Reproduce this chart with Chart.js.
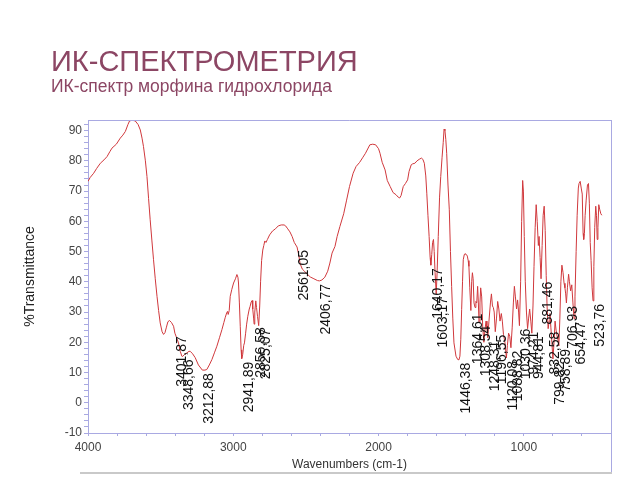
<!DOCTYPE html>
<html>
<head>
<meta charset="utf-8">
<script src="https://cdn.jsdelivr.net/npm/chart.js@4/dist/chart.umd.min.js"></script>
<style>
  html, body { margin: 0; padding: 0; background: #ffffff; }
  #wrap { position: relative; width: 640px; height: 480px; overflow: hidden; }
  #c { position: absolute; left: 0; top: 0; }
  .t1 { position: absolute; left: 51px; top: 47px; font-family: "Liberation Sans", Arial, sans-serif; font-size: 29px; line-height: 29px; color: #8c4664; white-space: nowrap; }
  .t2 { position: absolute; left: 51px; top: 78px; font-family: "Liberation Sans", Arial, sans-serif; font-size: 17.5px; line-height: 17.5px; color: #8c4664; white-space: nowrap; }
</style>
</head>
<body>
<div id="wrap">
  <canvas id="c" width="640" height="480"></canvas>
  <div class="t1">ИК-СПЕКТРОМЕТРИЯ</div>
  <div class="t2">ИК-спектр морфина гидрохлорида</div>
</div>
<script>
// ---- data (wavenumber, cm-1) ----
const wavenumbers = [
  4000,3985,3961,3940,3915,3890,3869,3850,3835,3805,3778,3760,3743,3725,3714,3695,3675,3655,3640,3628,
  3618,3605,3594,3583,3572,3560,3549,3537,3525,3514,3503,3490,3480,3470,3460,3450,3439,3425,3411,3401.87,
  3390,3377,3365,3354,3348.66,3335,3319,3305,3296,3280,3262,3240,3212.88,3195,3182,3165,3147,3130,3113,3095,
  3078,3065,3056,3045,3040,3035,3028,3021,3010,2998,2985,2975,2968,2964,2958,2952,2946,2941.89,2935,2928,
  2923,2915,2908,2900,2890,2884,2877,2870,2866,2860,2856.58,2852,2845,2840,2833,2825.07,2818,2812,2805,2797,
  2790,2783,2775,2765,2750,2730,2710,2690,2670,2650,2640,2625,2610,2595,2580,2561.05,2550,2540,2525,2510,
  2490,2470,2445,2420,2406.77,2390,2370,2350,2335,2320,2300,2285,2266,2240,2220,2200,2175,2155,2130,2110,
  2090,2060,2040,2020,2000,1990,1975,1955,1940,1920,1900,1880,1865,1855,1845,1830,1815,1800,1790,1775,
  1765,1750,1735,1720,1705,1695,1685,1675,1668,1660,1652,1645,1640.17,1634,1628,1622,1617,1611,1603.17,1597,
  1589,1580,1572,1563,1555,1549,1543,1537,1531,1522,1513,1505,1497,1489,1481,1467,1455,1446.38,1440,1434,
  1428,1422,1417,1410,1405,1395,1389,1383,1378,1372,1364.61,1359,1354,1349,1343,1336,1330,1324,1318,1313,
  1308.54,1302,1297,1290,1283,1275,1268,1260,1254,1248.31,1240,1230,1223,1216,1210,1204,1196.55,1188,1180,1172,
  1164,1155,1148,1140,1130,1120.08,1113,1105,1097,1088.82,1080,1072,1065,1058,1050,1043,1036,1030.36,1022,1015,
  1008,1003,997,990,982,974.21,967,960,952,944.81,937,930,922,915,908,900,895,888,881.46,874,
  867,860,853,846,840,832.58,826,820,814,807,799.82,792,785,778,771,765,758.89,752,745,738,
  730,723,717,712,706.93,700,692,686,678,670,662,654.47,648,640,633,625,620,612,605,598,
  592,588,583,578,571,562,555,549,543,537,530,523.76,518,512,505,500,495,490,484,478,
  470,463
];
// ---- %Transmittance ----
const transmittance = [
  73.2,74.5,75.9,77.5,79.2,80.3,81.4,83,84.2,85.5,87.5,88.5,89.7,92,93.2,93.4,93.2,92,90.2,87.5,
  84.7,80,74.8,67.5,60.5,53.5,47.3,41,35.2,30.5,26.4,23.5,22.6,23.2,25,26.8,27.2,26.5,25.3,23,
  21.5,19.8,17,15.4,15.3,16,16.5,17,17,16.2,14.9,12.5,10.8,10.8,11,12.5,14.3,16.5,18.7,21.5,
  24.2,26.5,28.1,29.8,30.2,29.2,30.5,35.2,37.5,39.6,41,42.4,41.5,39.6,33,25.3,17.5,14.6,16,19,
  19.8,23,26,28.6,31,31.9,33.3,33.8,31,28,26,30,33.7,31.5,28.5,25.5,32,40,47,50.5,
  52,53.5,53,54,55.5,56.8,57.5,58.5,58.8,58.8,58.5,57.5,56.5,55,53,51.5,49,46,44.2,43.5,
  42.5,41.6,41,40.4,40.3,40.6,41.5,43.5,46.2,49.5,51.7,55,58.3,62.5,67,71.5,75.9,78.1,79.5,81,
  82.5,85.3,85.5,85.3,84,82.5,79.5,77,73.5,71.5,69.5,68.8,68,67.7,68.5,71.5,72.5,73.7,76.5,78.7,
  79,79.2,80,80.5,80.9,80.5,79.2,75,69.3,62,55,48,45.5,49,53,54,50,43,36,43,
  55,68,74.8,81,86,90.5,90,87,82.5,72,63.8,50,38.5,28,19.8,15.4,14.3,14.2,15.4,21,
  30.8,40,47.3,49,49.3,49,48.5,47,45.1,38,30.5,40,43,41,33,31.5,33.5,33,38.5,33,
  26.5,33,38,35,25,20,24,27,24.5,21.5,27,33,36,32,31.5,30,23.5,28,33.5,31,
  27,29.5,27,22.5,20,14.8,19,23,22,18.2,25,33,38.5,35,31,34,30,25.5,40,60,
  73.5,70,55,40,30,24.5,28,31,27,23,32,45,58,65.5,60,52,55,48,41,52,
  62,65,57,42,32,24.5,27,29.5,25,20,14.5,20,27,24,22,21,18.8,28,40,45.5,
  43,39.5,38,36,33,38,42.5,40,37,39,33,27.8,35,50,62,71,72.5,73.2,71,69,
  56,54,56,62,67,72,72.5,66,53,47,38,33.7,45,58,65,62,54,58,65.5,64,
  62.5,62
];
// ---- labelled peaks ----
const peakWavenumbers = [3401.87,3348.66,3212.88,2941.89,2856.58,2825.07,2561.05,2406.77,1640.17,1603.17,
  1446.38,1364.61,1308.54,1248.31,1196.55,1120.08,1088.82,1030.36,974.21,944.81,881.46,832.58,799.82,758.89,
  706.93,654.47,523.76];
const peakLabels = ["3401,87","3348,66","3212,88","2941,89","2856,58","2825,07","2561,05","2406,77","1640,17","1603,17",
  "1446,38","1364,61","1308,54","1248,31","1196,55","1120,08","1088,82","1030,36","974,21","944,81","881,46","832,58","799,82","758,89",
  "706,93","654,47","523,76"];
// ---- axis ticks ----
const xTickLabels = [4000, 3000, 2000, 1000];
const yTickLabels = [-10, 0, 10, 20, 30, 40, 50, 60, 70, 80, 90];

const points = wavenumbers.map((w, i) => ({ x: w, y: transmittance[i] }));
const AXIS = '#a9a9e2';
const FONT = '"Liberation Sans", Arial, sans-serif';

const framePlugin = {
  id: 'frame',
  afterDraw(chart) {
    const { ctx, chartArea: a } = chart;
    ctx.save();
    ctx.strokeStyle = AXIS;
    ctx.lineWidth = 1;
    ctx.beginPath();
    ctx.moveTo(a.left, a.top + 0.5);
    ctx.lineTo(a.right + 0.5, a.top + 0.5);
    ctx.moveTo(a.right + 0.5, a.top);
    ctx.lineTo(a.right + 0.5, 473);
    ctx.stroke();
    ctx.strokeStyle = '#c9c9c9';
    ctx.lineWidth = 2;
    ctx.beginPath();
    ctx.moveTo(80, 473);
    ctx.lineTo(a.right + 1, 473);
    ctx.stroke();
    ctx.restore();
  }
};

const peakPlugin = {
  id: 'peaks',
  afterDatasetsDraw(chart) {
    const { ctx, scales } = chart;
    ctx.save();
    ctx.fillStyle = '#111';
    ctx.font = '14px ' + FONT;
    ctx.textAlign = 'right';
    ctx.textBaseline = 'middle';
    peakWavenumbers.forEach((w, k) => {
      const idx = wavenumbers.findIndex(v => Math.abs(v - w) < 0.001);
      const t = transmittance[idx];
      const px = scales.x.getPixelForValue(w) + 7;
      const py = scales.y.getPixelForValue(t) + 3;
      ctx.save();
      ctx.translate(px, py);
      ctx.rotate(-Math.PI / 2);
      ctx.fillText(peakLabels[k], 0, 0);
      ctx.restore();
    });
    ctx.restore();
  }
};

new Chart(document.getElementById('c'), {
  type: 'line',
  data: {
    datasets: [{
      data: points,
      borderColor: '#d0383c',
      borderWidth: 1,
      pointRadius: 0,
      tension: 0,
      fill: false
    }]
  },
  options: {
    responsive: false,
    animation: false,
    layout: { padding: { left: 0, top: 120, right: 29, bottom: 0 } },
    plugins: { legend: { display: false }, tooltip: { enabled: false } },
    scales: {
      x: {
        type: 'linear',
        reverse: true,
        min: 400,
        max: 4000,
        border: { color: AXIS, width: 1 },
        grid: { drawOnChartArea: false, color: AXIS, tickLength: 3 },
        ticks: {
          stepSize: 200, autoSkip: false, maxRotation: 0, padding: 4,
          color: '#444', font: { family: FONT, size: 12 },
          callback: v => xTickLabels.includes(v) ? String(v) : ''
        },
        title: { display: true, text: 'Wavenumbers (cm-1)', color: '#333',
                 font: { family: FONT, size: 12 }, padding: { top: 0, bottom: 8 } },
        afterFit: s => { s.height = 47; }
      },
      y: {
        min: -10,
        max: 93.5,
        border: { color: AXIS, width: 1 },
        grid: { drawOnChartArea: false, color: AXIS, tickLength: 4 },
        ticks: {
          stepSize: 2, includeBounds: false, autoSkip: false, padding: 2,
          color: '#444', font: { family: FONT, size: 12 },
          callback: v => yTickLabels.includes(v) ? String(v) : ''
        },
        title: { display: true, text: '%Transmittance', color: '#222',
                 font: { family: FONT, size: 14 }, padding: { top: 22, bottom: 0 } },
        afterFit: s => { s.width = 88; }
      }
    }
  },
  plugins: [framePlugin, peakPlugin]
});
</script>
</body>
</html>
